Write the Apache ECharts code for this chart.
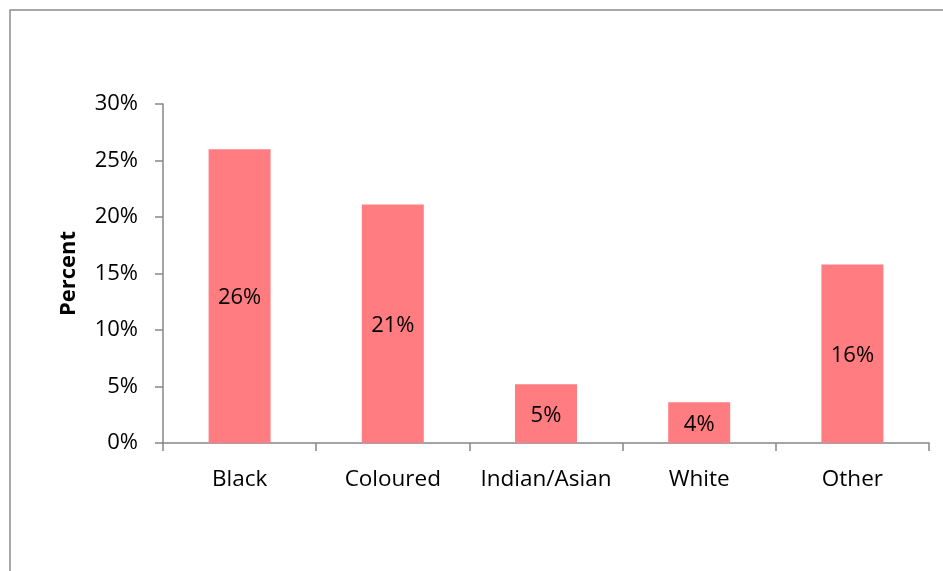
<!DOCTYPE html>
<html>
<head>
<meta charset="utf-8">
<script src="https://cdn.jsdelivr.net/npm/echarts@6/dist/echarts.min.js"></script>
<style>
html,body{margin:0;padding:0;background:#fff;}
#chart{width:943px;height:571px;}
</style>
</head>
<body>
<div id="chart"></div>
<script>
const categories = ["Black", "Coloured", "Indian/Asian", "White", "Other"];
const values = [26.0, 21.1, 5.2, 3.6, 15.8];
const yTicks = [0, 5, 10, 15, 20, 25, 30];
const axisTitle = "Percent";

const FONT = "'Open Sans', 'Noto Sans', sans-serif";
const chart = echarts.init(document.getElementById('chart'), null, {renderer: 'canvas'});
chart.setOption({
  animation: false,
  backgroundColor: '#ffffff',
  graphic: [{
    type: 'rect',
    shape: {x: 10, y: 10, width: 1000, height: 1000},
    style: {fill: 'none', stroke: '#8c8c8c', lineWidth: 1.5},
    silent: true
  }],
  grid: {left: 163, top: 104, right: 14, bottom: 128, containLabel: false},
  xAxis: {
    type: 'category',
    data: categories,
    axisLine: {lineStyle: {color: '#868686', width: 1.5}},
    axisTick: {show: true, alignWithLabel: false, length: 8, lineStyle: {color: '#868686', width: 1.5}},
    axisLabel: {color: '#000', fontSize: 22.5, fontFamily: FONT, margin: 25, interval: 0}
  },
  yAxis: {
    type: 'value',
    min: yTicks[0],
    max: yTicks[yTicks.length - 1],
    interval: 5,
    name: axisTitle,
    nameLocation: 'middle',
    nameGap: 83,
    nameTextStyle: {color: '#000', fontSize: 22, fontWeight: 'bold', fontFamily: FONT},
    axisLine: {show: true, lineStyle: {color: '#868686', width: 1.5}},
    axisTick: {show: true, inside: false, length: 8, lineStyle: {color: '#868686', width: 1.5}},
    splitLine: {show: false},
    axisLabel: {color: '#000', fontSize: 22, fontFamily: FONT, margin: 25, formatter: v => v + '%'}
  },
  series: [{
    type: 'bar',
    data: values,
    barWidth: 62,
    itemStyle: {color: '#ff7c80'},
    label: {
      show: true,
      position: 'inside',
      color: '#000',
      fontSize: 22,
      fontFamily: FONT,
      offset: [0, 2],
      formatter: p => Math.round(p.value) + '%'
    }
  }]
});
</script>
</body>
</html>
